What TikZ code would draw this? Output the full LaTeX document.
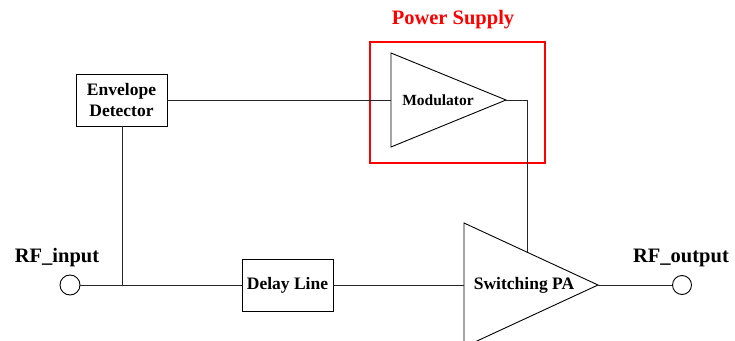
\documentclass[tikz,border=0pt]{standalone}
\usepackage{fontspec}
\setmainfont{Liberation Serif}
\begin{document}
\begin{tikzpicture}[x=1pt,y=1pt,
  wire/.style={draw=black!85, line width=0.9pt},
  blockbox/.style={draw=black, line width=0.9pt, fill=white, inner sep=0pt, font=\fontsize{17.5}{19}\selectfont\bfseries, align=center},
  port/.style={circle, draw=black, line width=0.9pt, fill=white, minimum size=20pt, inner sep=0pt},
  lbl/.style={font=\fontsize{20.5}{22}\selectfont\bfseries, inner sep=0pt},
  tri/.style={draw=black, line width=0.9pt, fill=white}]
\useasboundingbox (0,0) rectangle (735,340);
\clip (0,0) rectangle (735,340);
% Coordinates
\coordinate (modL) at (391,240);
\coordinate (modTip) at (506,240);
\coordinate (modCorner) at (527,240);
\coordinate (paL) at (464,55);
\coordinate (paTip) at (598,55);
\coordinate (paTop) at (527,88.5);
\coordinate (junc) at (122,55);
% Triangles
\draw[tri] (391,287) -- (modTip) -- (391,193) -- cycle;
\node[font=\fontsize{15.5}{17}\selectfont\bfseries] (modtxt) at (438,240) {Modulator};
\draw[tri] (464,117) -- (paTip) -- (464,-7) -- cycle;
\node[font=\fontsize{17.5}{19}\selectfont\bfseries] (patxt) at (524,55) {Switching PA};
% Blocks
\node[blockbox, minimum width=91pt, minimum height=52pt] (env) at (121.5,240) {Envelope\\[1.5pt]Detector};
\node[blockbox, minimum width=91pt, minimum height=52pt] (delay) at (287.5,55) {Delay Line};
% Ports
\node[port] (rfin) at (70,55) {};
\node[port, minimum size=19pt] (rfout) at (682,55) {};
\node[lbl] (rfinlbl) at (57,82) {RF\_input};
\node[lbl] (rfoutlbl) at (681,82) {RF\_output};
% Power supply box
\node[draw=red, line width=2.8pt, minimum width=175pt, minimum height=121pt, inner sep=0pt] (ps) at (457.5,237.5) {};
\node[text=red, font=\fontsize{20.5}{22}\selectfont\bfseries] (pslbl) at (453,320) {Power Supply};
% Wires
\draw[wire] (env.east) -- (modL);
\draw[wire] (env.south -| junc) -- (junc);
\draw[wire] (rfin) -- (delay.west);
\draw[wire] (delay.east) -- (paL);
\draw[wire] (modTip) -- (modCorner) -- (paTop);
\draw[wire] (paTip) -- (rfout);
\end{tikzpicture}
\end{document}
